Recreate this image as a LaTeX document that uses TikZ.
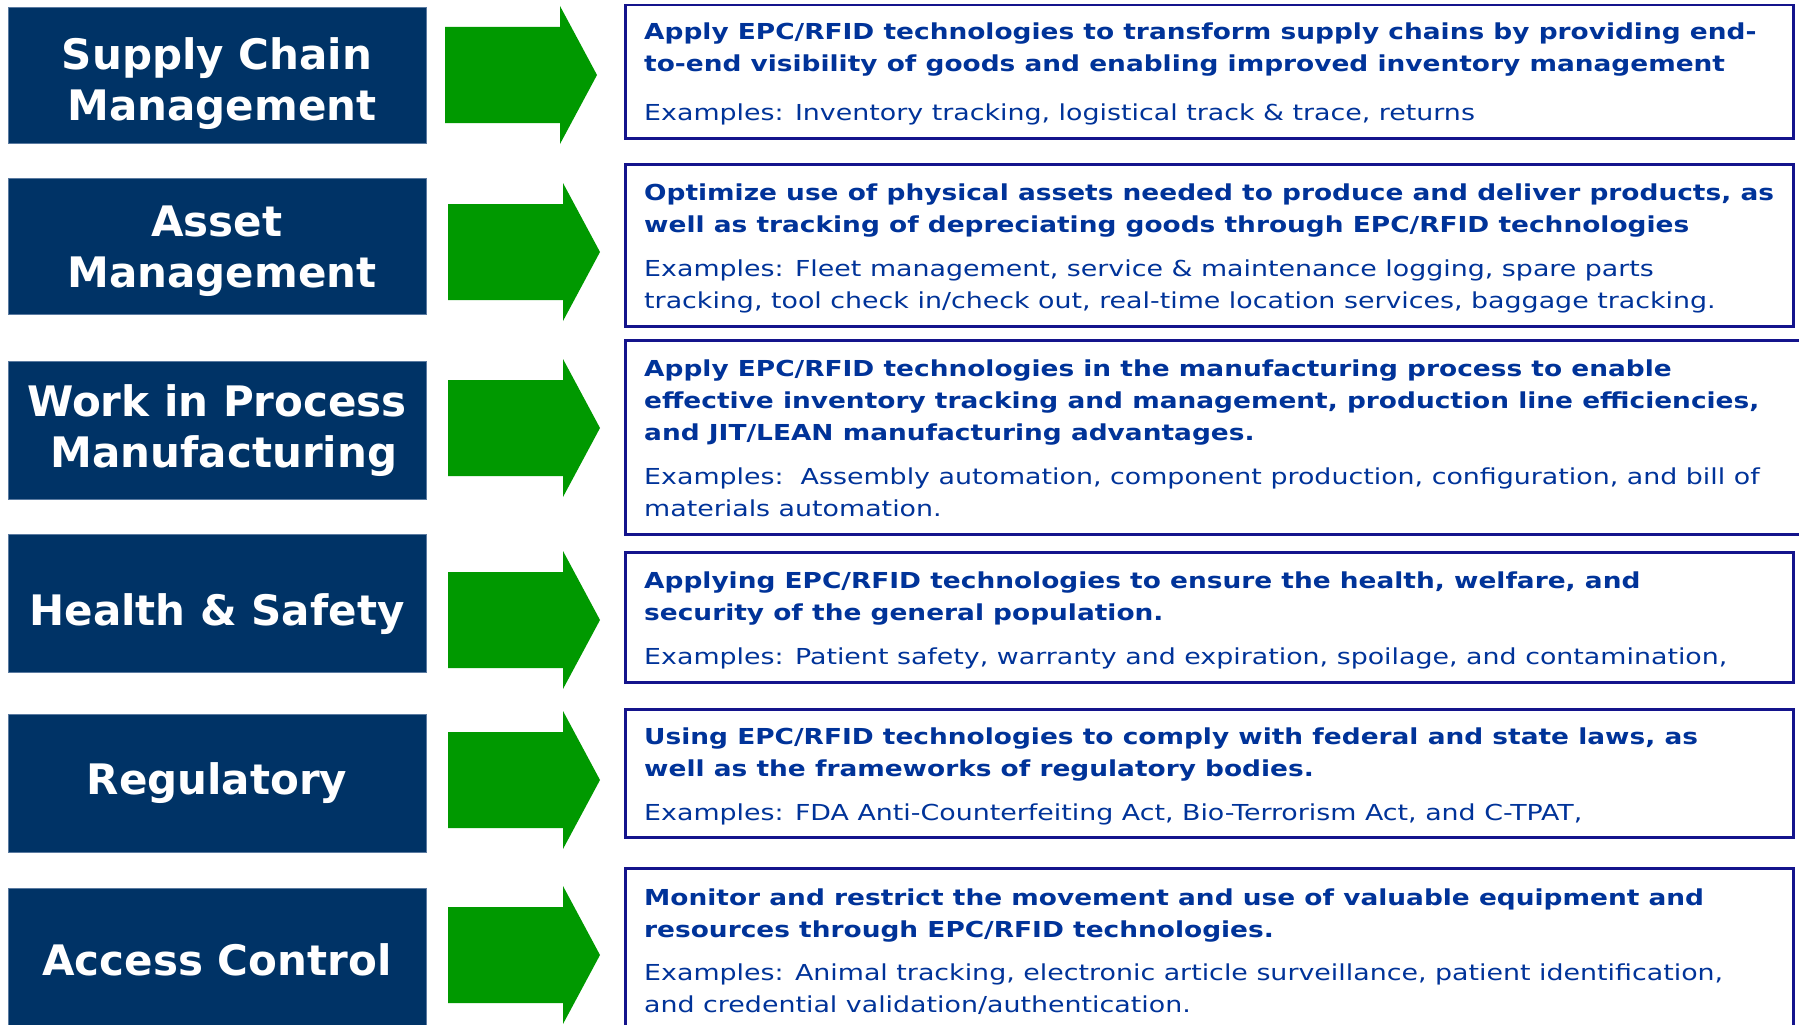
\documentclass[tikz,border=0pt]{standalone}
\usepackage{fontspec}
\setmainfont{DejaVu Sans}
\newfontfamily\rfont[FakeStretch=1.22]{DejaVu Sans}
\newfontfamily\rbfont[FakeStretch=1.20]{DejaVu Sans}
\definecolor{navyfill}{HTML}{003366}
\definecolor{navyedge}{HTML}{5A7AA0}
\definecolor{arrowgreen}{HTML}{009900}
\definecolor{txtblue}{HTML}{003399}
\definecolor{boxline}{HTML}{14148C}
\tikzset{
  catbox/.style={fill=navyfill, draw=navyedge, line width=1pt, inner sep=0pt, anchor=north west},
  cattext/.style={text=white, font=\fontsize{42}{50}\selectfont\bfseries, anchor=base, inner sep=0pt},
  descbox/.style={draw=boxline, line width=2.5pt, inner sep=0pt, anchor=north west},
  boldline/.style={text=txtblue, font=\rbfont\fontsize{22}{32}\selectfont\bfseries, anchor=base west, inner sep=0pt},
  exline/.style={text=txtblue, font=\rfont\fontsize{22}{32}\selectfont, anchor=base west, inner sep=0pt},
  garrow/.style={fill=arrowgreen}
}
\newcommand{\blockarrow}[2]{%
  \fill[garrow] (#1,#2-48) -- (#1+115,#2-48) -- (#1+115,#2-69) -- (#1+152,#2)
    -- (#1+115,#2+69) -- (#1+115,#2+48) -- (#1,#2+48) -- cycle;}
\begin{document}
\begin{tikzpicture}[x=1pt,y=-1pt]
\useasboundingbox (0,0) rectangle (1799,1025);
\fill[white] (0,0) rectangle (1799,1025);

% category boxes
\node[catbox, minimum width=418pt, minimum height=136pt] (c1) at (8,7) {};
\node[catbox, minimum width=418pt, minimum height=136pt] (c2) at (8,178) {};
\node[catbox, minimum width=418pt, minimum height=138pt] (c3) at (8,361) {};
\node[catbox, minimum width=418pt, minimum height=138pt] (c4) at (8,534) {};
\node[catbox, minimum width=418pt, minimum height=138pt] (c5) at (8,714) {};
\node[catbox, minimum width=418pt, minimum height=150pt] (c6) at (8,888) {};

\node[cattext] (c1a) at (217,70) {Supply Chain};
\node[cattext] (c1b) at (222,120) {Management};
\node[cattext] (c2a) at (217,236) {Asset};
\node[cattext] (c2b) at (222,287) {Management};
\node[cattext] (c3a) at (217,416) {Work in Process};
\node[cattext] (c3b) at (224,467) {Manufacturing};
\node[cattext] (c4a) at (217,625) {Health \& Safety};
\node[cattext] (c5a) at (217,794) {Regulatory};
\node[cattext] (c6a) at (217,975) {Access Control};

% arrows
\blockarrow{445}{75}
\blockarrow{448}{252}
\blockarrow{448}{428}
\blockarrow{448}{620}
\blockarrow{448}{780}
\blockarrow{448}{955}

% description boxes
\node[descbox, minimum width=1168pt, minimum height=133pt] (d1) at (624,4) {};
\node[descbox, minimum width=1168pt, minimum height=162pt] (d2) at (624,163) {};
\node[descbox, minimum width=1185pt, minimum height=194pt] (d3) at (624,339) {};
\node[descbox, minimum width=1168pt, minimum height=130pt] (d4) at (624,551) {};
\node[descbox, minimum width=1168pt, minimum height=128pt] (d5) at (624,708) {};
\node[descbox, minimum width=1168pt, minimum height=170pt] (d6) at (624,867) {};

\node[boldline] (t1a) at (644,40) {Apply EPC/RFID technologies to transform supply chains by providing end-};
\node[boldline] (t1b) at (644,72) {to-end visibility of goods and enabling improved inventory management};
\node[exline] (t1c) at (644,121) {Examples: Inventory tracking, logistical track \& trace, returns};

\node[boldline] (t2a) at (644,200) {Optimize use of physical assets needed to produce and deliver products, as};
\node[boldline] (t2b) at (644,232) {well as tracking of depreciating goods through EPC/RFID technologies};
\node[exline] (t2c) at (644,276) {Examples: Fleet management, service \& maintenance logging, spare parts};
\node[exline] (t2d) at (644,308) {tracking, tool check in/check out, real-time location services, baggage tracking.};

\node[boldline] (t3a) at (644,376) {Apply EPC/RFID technologies in the manufacturing process to enable};
\node[boldline] (t3b) at (644,408) {effective inventory tracking and management, production line efficiencies,};
\node[boldline] (t3c) at (644,440) {and JIT/LEAN manufacturing advantages.};
\node[exline] (t3d) at (644,484) {Examples:\ \ Assembly automation, component production, configuration, and bill of};
\node[exline] (t3e) at (644,516) {materials automation.};

\node[boldline] (t4a) at (644,588) {Applying EPC/RFID technologies to ensure the health, welfare, and};
\node[boldline] (t4b) at (644,620) {security of the general population.};
\node[exline] (t4c) at (644,664) {Examples: Patient safety, warranty and expiration, spoilage, and contamination,};

\node[boldline] (t5a) at (644,744) {Using EPC/RFID technologies to comply with federal and state laws, as};
\node[boldline] (t5b) at (644,776) {well as the frameworks of regulatory bodies.};
\node[exline] (t5c) at (644,820) {Examples: FDA Anti-Counterfeiting Act, Bio-Terrorism Act, and C-TPAT,};

\node[boldline] (t6a) at (644,905) {Monitor and restrict the movement and use of valuable equipment and};
\node[boldline] (t6b) at (644,937) {resources through EPC/RFID technologies.};
\node[exline] (t6c) at (644,980) {Examples: Animal tracking, electronic article surveillance, patient identification,};
\node[exline] (t6d) at (644,1012) {and credential validation/authentication.};
\end{tikzpicture}
\end{document}
